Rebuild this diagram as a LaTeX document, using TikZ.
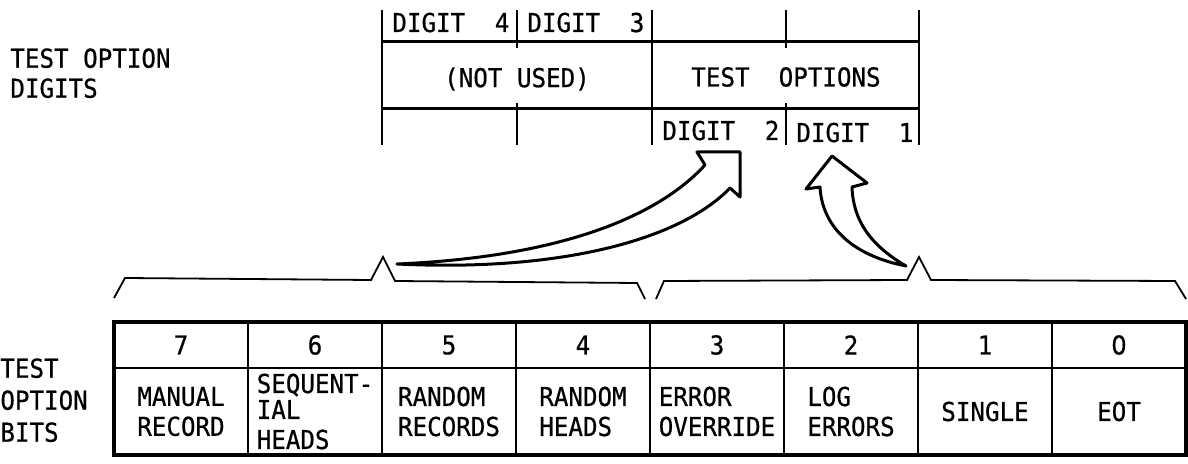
\documentclass[tikz,border=0pt]{standalone}
\usepackage{fontspec}
\usepackage{tikz}
\usetikzlibrary{positioning}
\newfontfamily\labelFont[FakeStretch=0.93, FakeBold=0.6]{DejaVu Sans Mono}
\newfontfamily\zeroFont[FakeStretch=0.93, FakeBold=0.6]{DejaVu Sans}
\newcommand{\digitCell}[1]{\makebox[58.5pt]{DIGIT\hfill#1}}

\begin{document}
\begin{tikzpicture}[x=0.5pt, y=-0.5pt, node distance=0pt,
    every node/.style={font=\labelFont\fontsize{13}{15}\selectfont, inner sep=0pt}]
    \tikzstyle{bitno}=[draw, line width=1.1pt, minimum width=67pt, minimum height=23pt, outer sep=0pt]
    \tikzstyle{bitname}=[bitno, minimum height=43.5pt, align=left]
    \tikzstyle{digitlbl}=[anchor=base west]
    \tikzstyle{regline}=[line width=1.5pt]
    \tikzstyle{tick}=[line width=1pt]
    \tikzstyle{brace}=[line width=0.9pt]
    \tikzstyle{bigarrow}=[line width=1.5pt, line join=round, fill=white]
    \fill[white] (0,0) rectangle (1188,464);
    \useasboundingbox (0,0) rectangle (1188,464);
    % test option digits
    \node[anchor=north west, align=left] (digitslbl) at (10,48) {TEST OPTION\\DIGITS};
    \draw[regline] (382,42) -- (919,42);
    \draw[regline] (382,109) -- (919,109);
    \draw[tick] (382,10) -- (382,145);
    \draw[tick] (652,10) -- (652,145);
    \draw[tick] (919,10) -- (919,145);
    \draw[tick] (517,10) -- (517,48);
    \draw[tick] (517,103) -- (517,145);
    \draw[tick] (786,10) -- (786,48);
    \draw[tick] (786,103) -- (786,145);
    \node[digitlbl] (dig4) at (392,32) {\digitCell{4}};
    \node[digitlbl] (dig3) at (527,32) {\digitCell{3}};
    \node[digitlbl] (dig2) at (662,140) {\digitCell{2}};
    \node[digitlbl] (dig1) at (796,142) {\digitCell{1}};
    \node (notused) at (517,79) {(NOT USED)};
    \node (testopt) at (786,77) {TEST~~OPTIONS};
    % test option bits
    \node[anchor=north west, align=left, font=\labelFont\fontsize{13}{16}\selectfont] (bitslbl) at (0,358) {TEST\\OPTION\\BITS};
    \node[bitno] (b7) at (181,345) {7};
    \node[bitno, right=of b7] (b6) {6};
    \node[bitno, right=of b6] (b5) {5};
    \node[bitno, right=of b5] (b4) {4};
    \node[bitno, right=of b4] (b3) {3};
    \node[bitno, right=of b3] (b2) {2};
    \node[bitno, right=of b2] (b1) {1};
    \node[bitno, right=of b1] (b0) {\zeroFont 0};
    \node[bitname, below=of b7] (f7) {MANUAL\\RECORD};
    \node[bitname, below=of b6] (f6) {SEQUENT-\\[-2pt]IAL\\HEADS};
    \node[bitname, below=of b5] (f5) {RANDOM\\RECORDS};
    \node[bitname, below=of b4] (f4) {RANDOM\\HEADS};
    \node[bitname, below=of b3] (f3) {ERROR\\OVERRIDE};
    \node[bitname, below=of b2] (f2) {LOG\\ERRORS};
    \node[bitname, below=of b1] (f1) {SINGLE};
    \node[bitname, below=of b0] (f0) {EOT};
    \draw[line width=1.6pt] (b7.north west) rectangle (f0.south east);
    % braces
    \draw[brace] (114,298) -- (125,278) -- (371,280) -- (383,257) -- (395,281) -- (637,283) -- (645,299);
    \draw[brace] (656,299) -- (664,281) -- (907,280) -- (919,257) -- (931,280) -- (1175,281) -- (1186,299);
    % arrows
    \draw[bigarrow] (397,264) .. controls (540,258) and (650,225) .. (705,165) -- (697,152) -- (740,152)
      -- (740,197) -- (730,188) .. controls (680,240) and (560,272) .. (397,264) -- cycle;
    \draw[bigarrow] (906,266) .. controls (850,255) and (822,225) .. (820,187) -- (806,189) -- (832,156)
      -- (867,183) -- (852,187) .. controls (853,220) and (870,245) .. (906,266) -- cycle;
  \end{tikzpicture}
\end{document}
